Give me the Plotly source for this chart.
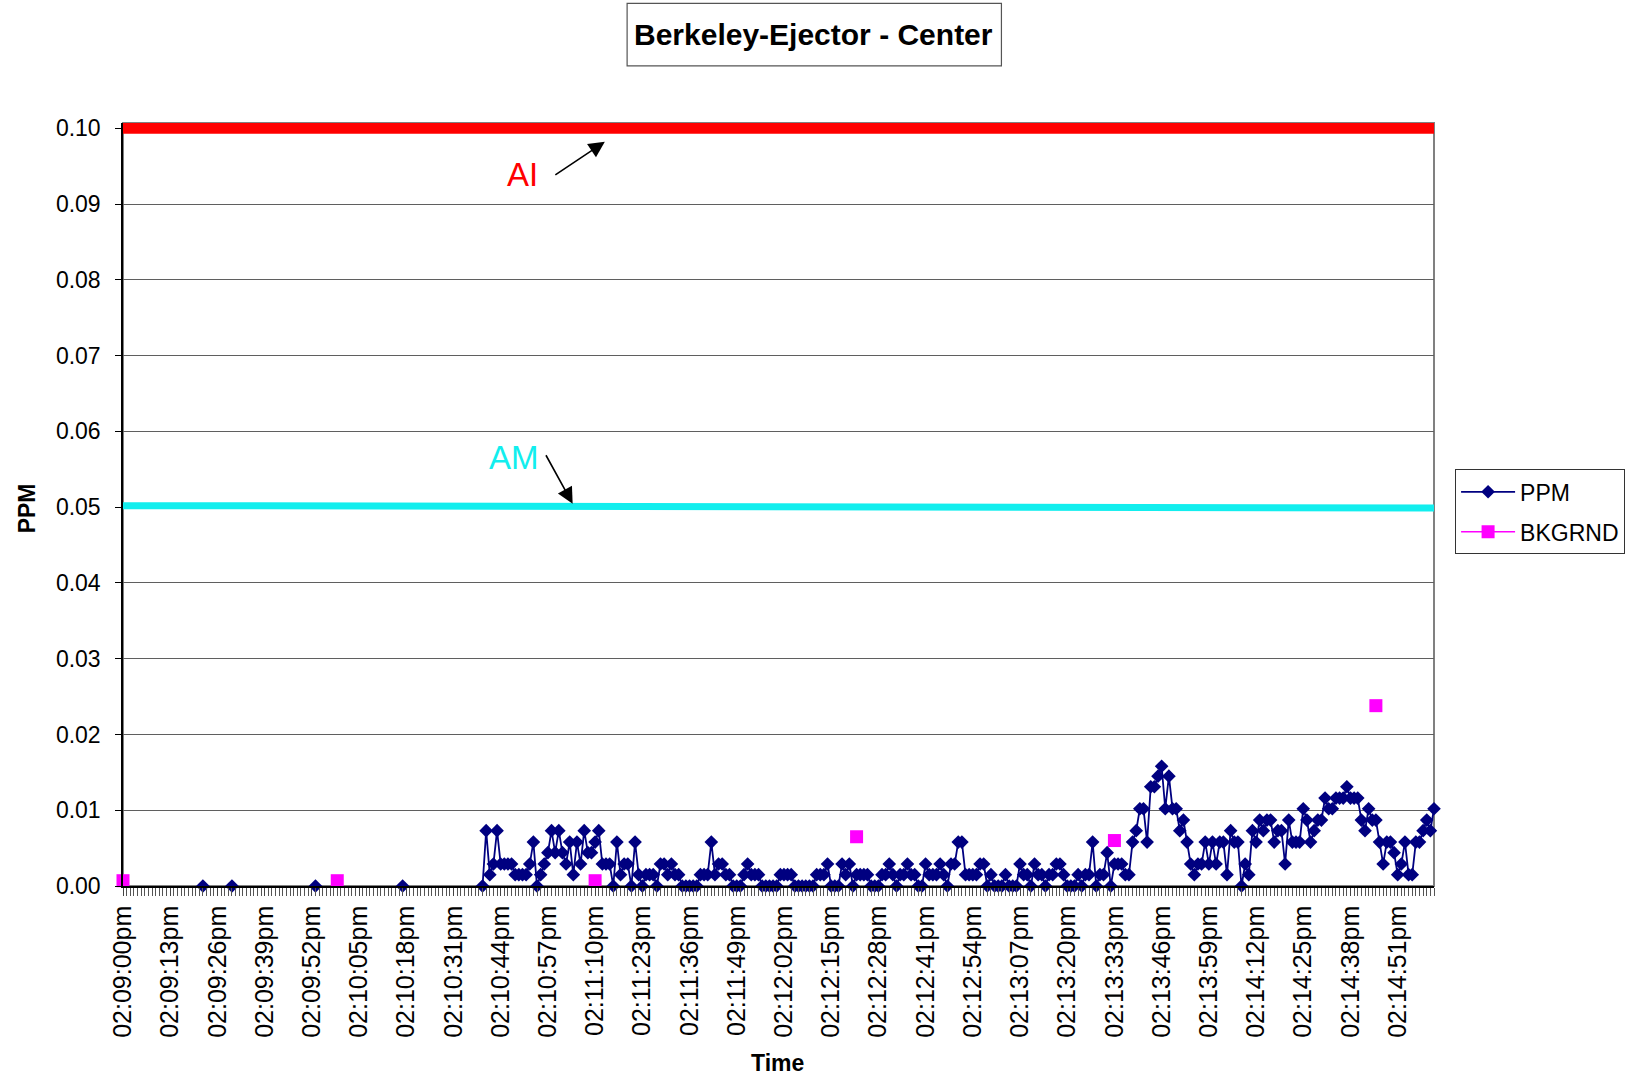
import datetime as dt
import plotly.graph_objects as go

# ---------------- data ----------------
t0 = dt.datetime(2000, 1, 1, 14, 9, 0)
n_samples = 362
times = [t0 + dt.timedelta(seconds=i) for i in range(n_samples)]
time_labels = [t.strftime("%I:%M:%S") + t.strftime("%p").lower() for t in times]
tick_every = 13

ppm_early_labels = ["02:09:22pm", "02:09:30pm", "02:09:53pm", "02:10:17pm"]
ppm_early_values = [0.0, 0.0, 0.0, 0.0]

ppm_run_start = "02:10:39pm"
ppm_run_values = [
    0.0, 0.0073, 0.0015, 0.0029, 0.0073, 0.0029, 0.0029, 0.0029, 0.0029, 0.0015,
    0.0015, 0.0015, 0.0015, 0.0029, 0.0058, 0.0, 0.0015, 0.0029, 0.0044, 0.0073,
    0.0044, 0.0073, 0.0044, 0.0029, 0.0058, 0.0015, 0.0058, 0.0029, 0.0073, 0.0044,
    0.0044, 0.0058, 0.0073, 0.0029, 0.0029, 0.0029, 0.0, 0.0058, 0.0015, 0.0029,
    0.0029, 0.0, 0.0058, 0.0015, 0.0, 0.0015, 0.0015, 0.0015, 0.0, 0.0029,
    0.0029, 0.0015, 0.0029, 0.0015, 0.0015, 0.0, 0.0, 0.0, 0.0, 0.0,
    0.0015, 0.0015, 0.0015, 0.0058, 0.0015, 0.0029, 0.0029, 0.0015, 0.0015, 0.0,
    0.0, 0.0, 0.0015, 0.0029, 0.0015, 0.0015, 0.0015, 0.0, 0.0, 0.0,
    0.0, 0.0, 0.0015, 0.0015, 0.0015, 0.0015, 0.0, 0.0, 0.0, 0.0,
    0.0, 0.0, 0.0015, 0.0015, 0.0015, 0.0029, 0.0, 0.0, 0.0, 0.0029,
    0.0015, 0.0029, 0.0, 0.0015, 0.0015, 0.0015, 0.0015, 0.0, 0.0, 0.0,
    0.0015, 0.0015, 0.0029, 0.0015, 0.0, 0.0015, 0.0015, 0.0029, 0.0015, 0.0015,
    0.0, 0.0, 0.0029, 0.0015, 0.0015, 0.0015, 0.0029, 0.0015, 0.0, 0.0029,
    0.0029, 0.0058, 0.0058, 0.0015, 0.0015, 0.0015, 0.0015, 0.0029, 0.0029, 0.0,
    0.0015, 0.0, 0.0, 0.0, 0.0015, 0.0, 0.0, 0.0, 0.0029, 0.0015,
    0.0015, 0.0, 0.0029, 0.0015, 0.0015, 0.0, 0.0015, 0.0015, 0.0029, 0.0029,
    0.0015, 0.0, 0.0, 0.0, 0.0015, 0.0, 0.0015, 0.0015, 0.0058, 0.0,
    0.0015, 0.0015, 0.0044, 0.0, 0.0029, 0.0029, 0.0029, 0.0015, 0.0015, 0.0058,
    0.0073, 0.0102, 0.0102, 0.0058, 0.0131, 0.0131, 0.0145, 0.0158, 0.0102, 0.0145,
    0.0102, 0.0102, 0.0073, 0.0087, 0.0058, 0.0029, 0.0015, 0.0029, 0.0029, 0.0058,
    0.0029, 0.0058, 0.0029, 0.0058, 0.0058, 0.0015, 0.0073, 0.0058, 0.0058, 0.0,
    0.0029, 0.0015, 0.0073, 0.0058, 0.0087, 0.0073, 0.0087, 0.0087, 0.0058, 0.0073,
    0.0073, 0.0029, 0.0087, 0.0058, 0.0058, 0.0058, 0.0102, 0.0087, 0.0058, 0.0073,
    0.0087, 0.0087, 0.0116, 0.0102, 0.0102, 0.0116, 0.0116, 0.0116, 0.0131, 0.0116,
    0.0116, 0.0116, 0.0087, 0.0073, 0.0102, 0.0087, 0.0087, 0.0058, 0.0029, 0.0058,
    0.0058, 0.0044, 0.0015, 0.0029, 0.0058, 0.0015, 0.0015, 0.0058, 0.0058, 0.0073,
    0.0087, 0.0073, 0.0102,
]

bkgrnd_labels = ["02:09:00pm", "02:09:59pm", "02:11:10pm", "02:12:22pm", "02:13:33pm", "02:14:45pm"]
bkgrnd_values = [0.0007, 0.0007, 0.0007, 0.0065, 0.0060, 0.0238]

ai_labels = ["02:09:00pm", "02:15:01pm"]
ai_values = [0.10, 0.10]
am_labels = ["02:09:00pm", "02:15:01pm"]
am_values = [0.0502, 0.0499]

y_ticks = [0.00, 0.01, 0.02, 0.03, 0.04, 0.05, 0.06, 0.07, 0.08, 0.09, 0.10]

# ---------------- build series ----------------
ppm_series = [None] * n_samples
for lab, v in zip(ppm_early_labels, ppm_early_values):
    ppm_series[time_labels.index(lab)] = v
s0 = time_labels.index(ppm_run_start)
for k, v in enumerate(ppm_run_values):
    ppm_series[s0 + k] = v

bkgrnd_series = [None] * n_samples
for lab, v in zip(bkgrnd_labels, bkgrnd_values):
    bkgrnd_series[time_labels.index(lab)] = v

def t_of(lab):
    return times[time_labels.index(lab)]

# ---------------- layout geometry ----------------
W, H = 1629, 1078
L, R = 122.5, 1434.5
B = 886.0
Y_TOP = 0.1007
T = B - (B - 128.8) * Y_TOP / 0.10

def px(x):
    return (x - L) / (R - L)

def py(y):
    return (B - y) / (B - T)

FONT = "Liberation Sans, Arial, sans-serif"
NAVY = "#000080"
MAGENTA = "#FF00FF"
CYAN = "#12EEEE"
RED = "#FF0000"

fig = go.Figure()

fig.add_trace(go.Scatter(
    x=[t_of(l) for l in am_labels], y=am_values, mode="lines",
    line=dict(color=CYAN, width=7), showlegend=False, hoverinfo="skip"))
fig.add_trace(go.Scatter(
    x=[t_of(l) for l in ai_labels], y=ai_values, mode="lines",
    line=dict(color=RED, width=11), showlegend=False, hoverinfo="skip"))

fig.add_trace(go.Scatter(
    x=times, y=ppm_series, name="PPM", mode="lines+markers",
    line=dict(color=NAVY, width=1.8),
    marker=dict(symbol="diamond", size=10.5, color=NAVY),
    connectgaps=False, cliponaxis=False, legendgroup="a"))
fig.add_trace(go.Scatter(
    x=times, y=bkgrnd_series, name="BKGRND", mode="lines+markers",
    line=dict(color=MAGENTA, width=1.5),
    marker=dict(symbol="square", size=13, color=MAGENTA),
    connectgaps=False, cliponaxis=False, legendgroup="b"))

tick_idx = list(range(0, n_samples, tick_every))

fig.update_layout(
    width=W, height=H,
    margin=dict(l=L, r=W - R, t=T, b=H - B, autoexpand=False),
    paper_bgcolor="white", plot_bgcolor="white",
    font=dict(family=FONT, color="black"),
    showlegend=True,
    legend=dict(
        x=px(1455.6), y=py(469.6), xanchor="left", yanchor="top",
        bordercolor="#333333", borderwidth=1, bgcolor="white",
        font=dict(family=FONT, size=23, color="black"),
        tracegroupgap=7, itemwidth=54,
    ),
    xaxis=dict(
        type="date",
        range=[times[0], times[-1]],
        tickmode="array",
        tickvals=[times[i] for i in tick_idx],
        ticktext=[time_labels[i] for i in tick_idx],
        tickangle=-90,
        tickfont=dict(family=FONT, size=25, color="black"),
        ticks="outside", ticklen=8, tickwidth=1, tickcolor="#444444",
        minor=dict(tick0=times[0], dtick=1000, ticks="outside", ticklen=8,
                   tickwidth=1, tickcolor="#555555", showgrid=False),
        showline=True, linecolor="black", linewidth=1.5,
        showgrid=False, zeroline=False,
    ),
    yaxis=dict(
        range=[0, Y_TOP],
        tickmode="array", tickvals=y_ticks,
        ticktext=[f"{v:.2f}" for v in y_ticks],
        tickfont=dict(family=FONT, size=23, color="black"),
        ticks="outside", ticklen=6, tickwidth=1, tickcolor="black",
        ticklabelstandoff=10,
        showline=True, linecolor="black", linewidth=1.5,
        showgrid=True, gridcolor="#5f5f5f", gridwidth=1,
        zeroline=False,
    ),
)

# plot-area frame (gray) like the original
fig.add_shape(type="rect", xref="paper", yref="paper", x0=0, x1=1, y0=0, y1=1,
              line=dict(color="#808080", width=2), layer="below")
# title box
fig.add_shape(type="rect", xref="paper", yref="paper",
              x0=px(627), x1=px(1001.6), y0=py(66.5), y1=py(4),
              line=dict(color="#555555", width=1.2), fillcolor="white")

fig.add_annotation(text="<b>Berkeley-Ejector - Center</b>", xref="paper", yref="paper",
                   x=px(814), y=py(35), showarrow=False, xanchor="center", yanchor="middle",
                   font=dict(family=FONT, size=30, color="black"))
fig.add_annotation(text="<b>PPM</b>", xref="paper", yref="paper",
                   x=px(26), y=py(509), showarrow=False, textangle=-90,
                   xanchor="center", yanchor="middle",
                   font=dict(family=FONT, size=23, color="black"))
fig.add_annotation(text="<b>Time</b>", xref="paper", yref="paper",
                   x=px(777), y=py(1063), showarrow=False,
                   xanchor="center", yanchor="middle",
                   font=dict(family=FONT, size=23, color="black"))

# AI / AM labels with arrows
fig.add_annotation(text="AI", xref="paper", yref="paper", x=px(522.6), y=py(174.5),
                   showarrow=False, xanchor="center", yanchor="middle",
                   font=dict(family=FONT, size=33, color=RED))
fig.add_annotation(text="", xref="paper", yref="paper", x=px(604.7), y=py(142.3),
                   ax=-51, ay=34, showarrow=True, arrowhead=2, arrowsize=2,
                   arrowwidth=1.6, arrowcolor="black")
fig.add_annotation(text="AM", xref="paper", yref="paper", x=px(514), y=py(458),
                   showarrow=False, xanchor="center", yanchor="middle",
                   font=dict(family=FONT, size=33, color=CYAN))
fig.add_annotation(text="", xref="paper", yref="paper", x=px(572.5), y=py(504),
                   ax=-27.5, ay=-50, showarrow=True, arrowhead=2, arrowsize=2,
                   arrowwidth=1.6, arrowcolor="black")

fig.write_html("out.html",
               config={"displayModeBar": False},
               post_script="document.body.style.margin='0';document.body.style.overflow='hidden';")
